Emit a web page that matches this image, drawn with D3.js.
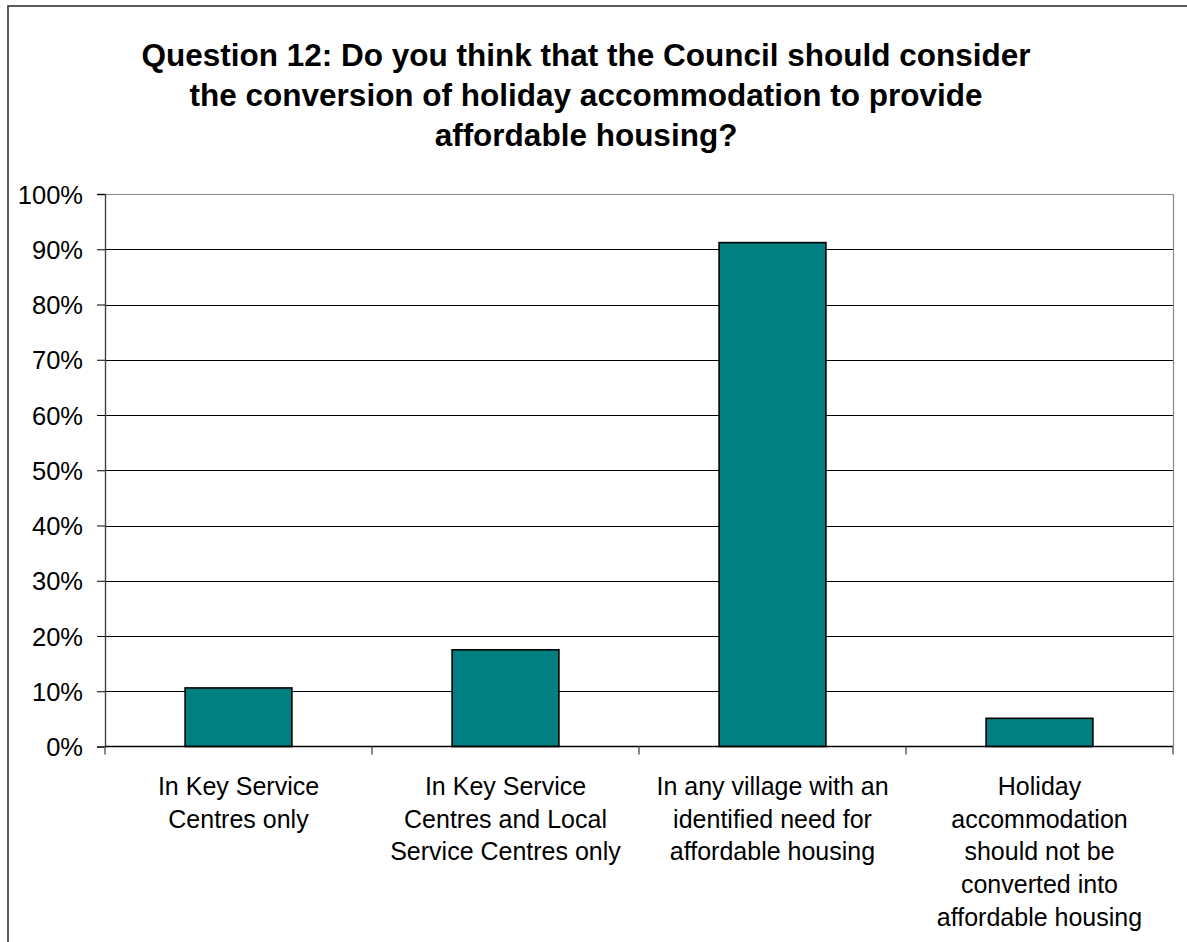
<!DOCTYPE html>
<html>
<head>
<meta charset="utf-8">
<script src="https://cdn.jsdelivr.net/npm/d3@7"></script>
<style>
  html, body { margin: 0; padding: 0; background: #fff; }
  svg { display: block; font-family: "Liberation Sans", Arial, sans-serif; }
</style>
</head>
<body>
<svg id="chart" width="1187" height="942"></svg>
<script>
// Survey responses, Question 12
const titleLines = [
  "Question 12: Do you think that the Council should consider",
  "the conversion of holiday accommodation to provide",
  "affordable housing?"
];
const categories = [
  "In Key Service Centres only",
  "In Key Service Centres and Local Service Centres only",
  "In any village with an identified need for affordable housing",
  "Holiday accommodation should not be converted into affordable housing"
];
const categoryLines = [
  ["In Key Service", "Centres only"],
  ["In Key Service", "Centres and Local", "Service Centres only"],
  ["In any village with an", "identified need for", "affordable housing"],
  ["Holiday", "accommodation", "should not be", "converted into", "affordable housing"]
];
const values = [10.6, 17.5, 91.2, 5.1];
const yTicks = [0, 10, 20, 30, 40, 50, 60, 70, 80, 90, 100];

const svg = d3.select("#chart");
const plot = { left: 105, right: 1173, top: 194, bottom: 746.5 };

// outer chart frame
svg.append("rect")
  .attr("x", 8).attr("y", 6)
  .attr("width", 1200).attr("height", 1000)
  .attr("fill", "none").attr("stroke", "#333").attr("stroke-width", 1.6);

// title
const title = svg.append("text")
  .attr("text-anchor", "middle")
  .attr("font-weight", "bold")
  .attr("font-size", 31.5)
  .attr("fill", "#000");
titleLines.forEach((t, i) => {
  title.append("tspan").attr("x", 586).attr("y", 66 + i * 40).text(t);
});

const x = d3.scaleBand()
  .domain(categories)
  .range([plot.left, plot.right])
  .paddingInner(0.6)
  .paddingOuter(0.3);

const y = d3.scaleLinear()
  .domain([0, 100])
  .range([plot.bottom, plot.top]);

// gridlines
svg.append("g")
  .selectAll("line")
  .data(yTicks.filter(d => d > 0))
  .join("line")
  .attr("x1", plot.left).attr("x2", plot.right)
  .attr("y1", d => Math.round(y(d)) + 0.5).attr("y2", d => Math.round(y(d)) + 0.5)
  .attr("stroke", "#000").attr("stroke-width", 1);

// plot area border (top & right)
svg.append("path")
  .attr("d", `M${plot.left},${Math.round(plot.top) + 0.5}H${plot.right + 0.5}V${plot.bottom}`)
  .attr("fill", "none").attr("stroke", "#888").attr("stroke-width", 1.2);

// bars
svg.append("g")
  .selectAll("rect")
  .data(values)
  .join("rect")
  .attr("x", (d, i) => x(categories[i]))
  .attr("y", d => y(d))
  .attr("width", x.bandwidth())
  .attr("height", d => y(0) - y(d))
  .attr("fill", "#008080")
  .attr("stroke", "#000")
  .attr("stroke-width", 1.6);

// y axis
const yAxis = d3.axisLeft(y)
  .tickValues(yTicks)
  .tickSize(8)
  .tickPadding(14)
  .tickFormat(d => d + "%");
const gy = svg.append("g")
  .attr("transform", `translate(${plot.left},0)`)
  .call(yAxis);
gy.select(".domain").attr("stroke", "#444").attr("stroke-width", 1.4);
gy.selectAll(".tick line").attr("stroke", "#000");
gy.selectAll(".tick text")
  .attr("font-size", 25.5)
  .attr("font-family", "Liberation Sans, Arial, sans-serif")
  .attr("fill", "#000")
  .attr("dy", "0.36em");

// x axis baseline
svg.append("line")
  .attr("x1", plot.left).attr("x2", plot.right)
  .attr("y1", y(0)).attr("y2", y(0))
  .attr("stroke", "#000").attr("stroke-width", 1.4);

// category separators
const gap = (x.step() - x.bandwidth()) / 2;
const bounds = categories.map(c => x(c) - gap).concat([x(categories[categories.length - 1]) + x.bandwidth() + gap]);
svg.append("g")
  .selectAll("line")
  .data(bounds)
  .join("line")
  .attr("x1", d => d).attr("x2", d => d)
  .attr("y1", y(0)).attr("y2", y(0) + 8)
  .attr("stroke", "#555").attr("stroke-width", 1.4);

// category labels
const labels = svg.append("g")
  .attr("text-anchor", "middle")
  .attr("font-size", 25)
  .attr("fill", "#000");
categories.forEach((c, i) => {
  const t = labels.append("text");
  categoryLines[i].forEach((line, j) => {
    t.append("tspan")
      .attr("x", x(c) + x.bandwidth() / 2)
      .attr("y", 795 + j * 32.7)
      .text(line);
  });
});
</script>
</body>
</html>
